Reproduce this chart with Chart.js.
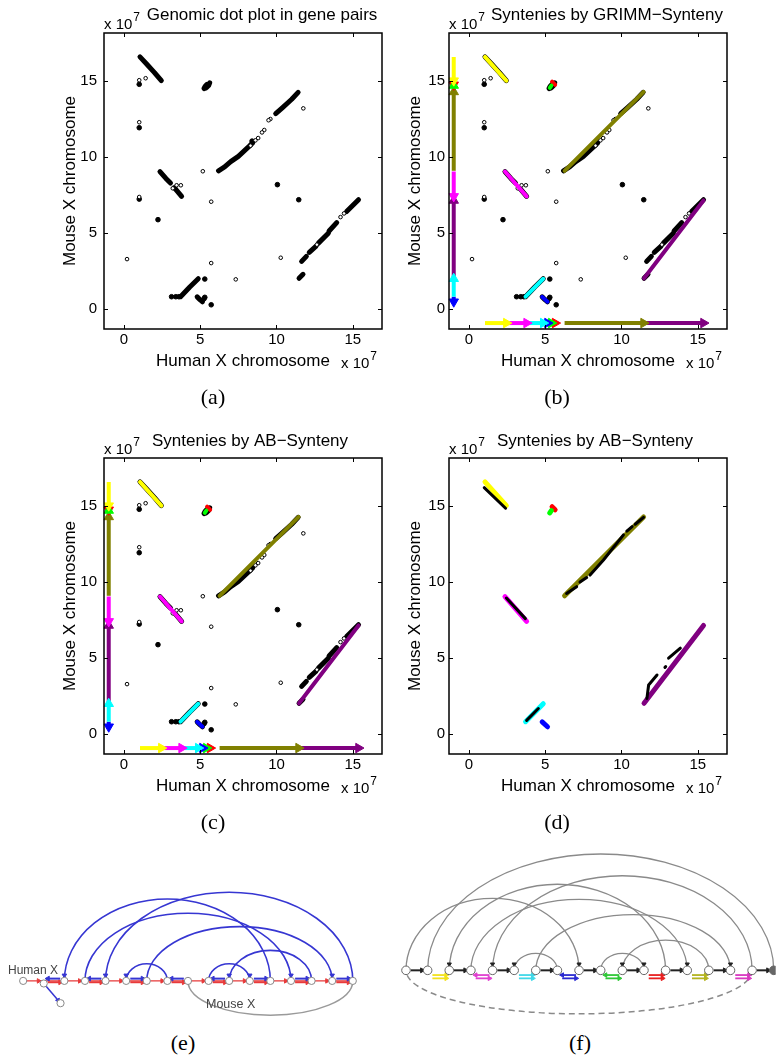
<!DOCTYPE html>
<html>
<head>
<meta charset="utf-8">
<script src="https://cdn.jsdelivr.net/npm/chart.js@4.4.1/dist/chart.umd.min.js"></script>
<style>
html,body{margin:0;padding:0;background:#fff;}
body{width:781px;height:1058px;position:relative;overflow:hidden;}
canvas{position:absolute;}
.cap{position:absolute;font-family:"Liberation Serif","DejaVu Serif",serif;font-size:22px;line-height:22px;color:#000;transform:translate(-50%,-50%);white-space:nowrap;}
</style>
</head>
<body>
<canvas id="pa" width="390" height="420" style="left:0;top:0"></canvas>
<canvas id="pb" width="390" height="420" style="left:345px;top:0"></canvas>
<canvas id="pc" width="390" height="420" style="left:0;top:425px"></canvas>
<canvas id="pd" width="390" height="420" style="left:345px;top:425px"></canvas>
<canvas id="pe" width="390" height="195" style="left:0;top:835px"></canvas>
<canvas id="pf" width="391" height="195" style="left:390px;top:835px"></canvas>
<div class="cap" style="left:213px;top:397px">(a)</div>
<div class="cap" style="left:557px;top:397px">(b)</div>
<div class="cap" style="left:213px;top:822px">(c)</div>
<div class="cap" style="left:557px;top:822px">(d)</div>
<div class="cap" style="left:183px;top:1043px">(e)</div>
<div class="cap" style="left:580px;top:1043px">(f)</div>
<script>
// ================= DATA (genome positions in units of 1e7 bp) =================
const xTicks = [0, 5, 10, 15];
const yTicks = [0, 5, 10, 15];

// dense runs of gene pairs (human pos, mouse pos) – vertices of the runs
const runsA = [
  [[1.05,16.58],[1.5,16.1],[2.0,15.55],[2.45,15.02]],
  [[5.25,14.5],[5.4,14.55],[5.55,14.7],[5.62,14.88]],
  [[5.3,14.62],[5.45,14.78]],
  [[6.2,9.1],[6.6,9.35],[7.0,9.7],[7.5,10.05],[8.15,10.65],[8.45,10.95]],
  [[9.95,12.85],[10.4,13.25],[11.0,13.8],[11.42,14.25]],
  [[2.36,9.05],[2.75,8.6],[3.05,8.3]],
  [[3.3,8.0],[3.78,7.42]],
  [[3.71,0.83],[4.3,1.45],[4.87,2.01]],
  [[4.8,0.82],[5.0,0.62],[5.15,0.5]],
  [[11.48,2.04],[11.74,2.3]],
  [[11.65,3.15],[11.96,3.48]],
  [[12.15,3.75],[12.6,4.15]],
  [[12.75,4.35],[13.4,5.0]],
  [[13.45,5.15],[13.95,5.7]],
  [[14.6,6.42],[15.38,7.2]]
];
const openPts = [[1.0,15.05],[1.42,15.18],[1.0,12.29],[5.17,9.07],[3.45,8.15],[3.73,8.15],[3.2,7.95],
  [1.0,7.38],[5.72,7.07],[0.2,3.3],[5.72,3.04],[7.33,1.97],[10.28,3.39],[11.76,13.2],[9.6,12.5],
  [9.48,12.42],[9.2,11.78],[9.05,11.62],[8.8,11.25],[8.62,11.1],[14.2,6.06],[14.43,6.3],[12.65,4.25],[8.3,10.75]];
const filledPts = [[1.0,14.78],[1.0,11.93],[1.0,7.24],[2.23,5.89],[10.06,8.19],[11.46,7.2],[5.3,1.99],
  [5.72,0.3],[5.3,0.79],[5.25,0.7],[3.12,0.83],[3.4,0.83],[3.6,0.83],[8.4,11.05]];

// synteny blocks (human start/end, mouse start/end)
const blockColor = ['#ffff00','#ff00ff','#00ffff','#0000ff','#00ff00','#ff0000','#808000','#800080'];
const blockH0 = [1.05, 2.36, 3.71, 4.80, 5.30, 5.45, 6.27, 11.48];
const blockH1 = [2.45, 3.78, 4.87, 5.15, 5.40, 5.65, 11.45, 15.38];
const blockM0 = [16.58, 9.05, 0.83, 0.82, 14.55, 14.95, 9.10, 2.04];
const blockM1 = [15.02, 7.42, 2.01, 0.50, 14.70, 14.75, 14.28, 7.15];

// AB-Synteny black segments in (d)
const abRuns = [
  [[1.0,16.2],[2.4,14.85]],
  [[2.45,8.95],[3.7,7.6]],
  [[3.78,0.92],[4.55,1.7]],
  [[6.4,9.25],[7.06,9.7]],
  [[7.28,10.0],[7.72,10.3]],
  [[7.94,10.46],[8.82,11.45],[10.13,13.1]],
  [[10.35,13.35],[10.7,13.65]],
  [[10.9,13.8],[11.45,14.25]],
  [[11.67,2.36],[11.78,3.24],[12.33,3.9]],
  [[12.85,4.4],[12.9,4.45]],
  [[13.09,5.0],[13.86,5.66]]
];

// graph (e)
const eNodeX = [0,1,2,3,4,5,6,7,8,9,10,11,12,13,14,15,16];
const eNodeY = [0,-2.7,0,0,0,0,0,0,0,0,0,0,0,0,0,0,0];
const eBranch = [1.815,-23.4];
const eArcFrom = [2,3,4,6,5,9,10];
const eArcTo   = [12,13,16,15,7,11,14];
const eArcH    = [86,71,93,57,18,18,32];
const eArrowNodes = [2,13,4,15,5,11,10];
const eLowArc = [8,16,-36];
const ePairStart = [1,3,5,7,9,11,13,15];
const eBlueDir = [-1,-1,1,-1,-1,1,1,1];
const eSingleStart = [0,2,4,6,8,10,12,14];

// graph (f)
const fNodeX = [0,1,2,3,4,5,6,7,8,9,10,11,12,13,14,15,16,17];
const fArcFrom = [0,1,2,3,4,5,6,9,10];
const fArcTo   = [8,17,12,13,16,7,15,11,14];
const fArcH    = [76,123,91,75,100,18,59,18,32];
const fArrowNodes = [8,2,13,4,5,15,11,10];
const fDashArc = [0,16,-46];
const fRowStart = [0,2,4,6,8,10,12,14,16];
const fPairStart = [1,3,5,7,9,11,13,15];
const fPairColor = ['#f2e21c','#e040d0','#40d8e8','#2a2ad0','#30c838','#e82020','#b4b420','#d838c0'];
const fTopDir = [1,-1,1,-1,-1,1,1,1];
const fBotDir = [1,1,1,1,1,1,1,1];

// ================= STYLE / LAYOUT =================
const FONT = '"Liberation Sans", Arial, Helvetica, sans-serif';
const X_MIN = -1.31, X_MAX = 16.92, Y_MIN = -1.29, Y_MAX = 18.15;
const HUMAN_AXIS_Y = -0.9, MOUSE_AXIS_X = -1.0;

const toXY = a => a.map(p => ({x:p[0], y:p[1]}));
function lineDs(pts, color, width, order, extra){
  return Object.assign({data:toXY(pts), showLine:true, borderColor:color, backgroundColor:color,
    borderWidth:width, pointRadius:0, pointHoverRadius:0, borderCapStyle:'round', borderJoinStyle:'round', order}, extra||{});
}
function arrowDs(p0, p1, color, rot, width, r, order){
  return {data:toXY([p0,p1]), showLine:true, borderColor:color, backgroundColor:color, borderWidth:width,
    borderCapStyle:'butt', pointStyle:'triangle', pointRadius:[0,r], pointHoverRadius:[0,r], pointRotation:[0,rot],
    pointBackgroundColor:color, pointBorderColor:color, pointBorderWidth:1, clip:12, order};
}

const framePlugin = {
  id:'frame',
  afterDraw(chart, args, o){
    const {ctx, chartArea:a, scales:{x, y}} = chart;
    ctx.save();
    ctx.strokeStyle = '#000';
    ctx.lineWidth = 1;
    const L = 4;
    ctx.beginPath();
    xTicks.forEach(v => { const p = Math.round(x.getPixelForValue(v))+0.5;
      ctx.moveTo(p,a.bottom); ctx.lineTo(p,a.bottom-L); ctx.moveTo(p,a.top); ctx.lineTo(p,a.top+L); });
    yTicks.forEach(v => { const p = Math.round(y.getPixelForValue(v))+0.5;
      ctx.moveTo(a.left,p); ctx.lineTo(a.left+L,p); ctx.moveTo(a.right,p); ctx.lineTo(a.right-L,p); });
    ctx.stroke();
    ctx.lineWidth = 1.5;
    ctx.strokeRect(a.left, a.top, a.right-a.left, a.bottom-a.top);
    ctx.fillStyle = '#000';
    ctx.font = '17px ' + FONT;
    ctx.textBaseline = 'alphabetic';
    ctx.textAlign = 'center';
    ctx.fillText(o.title, o.titleX, o.titleY);
    // x 10^7
    const pow = (px, py) => {
      ctx.font = '15px ' + FONT; ctx.textAlign = 'left';
      ctx.fillText('x 10', px, py);
      const w = ctx.measureText('x 10').width;
      ctx.font = '12px ' + FONT;
      ctx.fillText('7', px + w + 1, py - 8);
    };
    pow(a.left, 29);
    pow(341, 368);
    ctx.font = '17px ' + FONT; ctx.textAlign = 'center';
    ctx.fillText('Human X chromosome', (a.left+a.right)/2, 366);
    ctx.translate(70, (a.top+a.bottom)/2);
    ctx.rotate(-Math.PI/2);
    ctx.textBaseline = 'middle';
    ctx.fillText('Mouse X chromosome', 0, 0);
    ctx.restore();
  }
};

function dotPanel(id, o){
  const ds = [];
  if (o.dots){
    ds.push({data:toXY(openPts), pointRadius:1.8, pointHoverRadius:1.8, pointBorderWidth:1, pointBackgroundColor:'#fff', pointBorderColor:'#000', order:2});
    ds.push({data:toXY(filledPts), pointRadius:2.3, pointHoverRadius:2.3, pointBorderWidth:1, pointBackgroundColor:'#000', pointBorderColor:'#000', order:2});
    runsA.forEach(r => ds.push(lineDs(r, '#000', 5, 3)));
  }
  if (o.blocks){
    blockColor.forEach((c,i) => ds.push(lineDs([[blockH0[i],blockM0[i]],[blockH1[i],blockM1[i]]], c, o.blockW, 1)));
  }
  if (o.ab){
    abRuns.forEach(r => ds.push(lineDs(r, '#000', 3, 0.5)));
  }
  if (o.arrows){
    blockColor.forEach((c,i) => {
      ds.push(arrowDs([blockH0[i],HUMAN_AXIS_Y],[blockH1[i],HUMAN_AXIS_Y], c, 90, 4, 5.5, 0));
      const up = blockM1[i] > blockM0[i];
      ds.push(arrowDs([MOUSE_AXIS_X,blockM0[i]],[MOUSE_AXIS_X,blockM1[i]], c, up?0:180, 4, 5.5, 0));
    });
  }
  const axisCommon = (ticksArr) => ({
    type:'linear',
    afterBuildTicks: s => { s.ticks = ticksArr.map(v => ({value:v})); },
    grid:{display:false, drawTicks:false}, border:{display:false},
    ticks:{color:'#000', font:{family:FONT, size:15}, maxRotation:0, autoSkip:false, callback:v => String(v)}
  });
  const xs = axisCommon(xTicks); xs.min = X_MIN; xs.max = X_MAX; xs.ticks.padding = 2; xs.afterFit = s => { s.height = 91; };
  const ys = axisCommon(yTicks); ys.min = Y_MIN; ys.max = Y_MAX; ys.ticks.padding = o.yPad; ys.afterFit = s => { s.width = 104; };
  new Chart(document.getElementById(id), {
    type:'scatter',
    data:{datasets:ds},
    options:{
      responsive:false, animation:false, devicePixelRatio:1,
      layout:{padding:{top:33, right:8, left:0, bottom:0}},
      plugins:{legend:{display:false}, tooltip:{enabled:false},
        frame:{title:o.title, titleX:o.titleX, titleY:o.titleY}},
      scales:{x:xs, y:ys}
    },
    plugins:[framePlugin]
  });
}

dotPanel('pa', {dots:true, title:'Genomic dot plot in gene pairs', titleX:262, titleY:20, yPad:7});
dotPanel('pb', {dots:true, blocks:true, blockW:4, arrows:true, title:'Syntenies by GRIMM\u2212Synteny', titleX:262, titleY:20, yPad:4});
dotPanel('pc', {dots:true, blocks:true, blockW:4, arrows:true, title:'Syntenies by AB\u2212Synteny', titleX:250, titleY:21, yPad:7});
dotPanel('pd', {blocks:true, blockW:5, ab:true, title:'Syntenies by AB\u2212Synteny', titleX:250, titleY:21, yPad:4});

// ================= graph panels =================
const graphPlugin = {
  id:'graph',
  beforeDatasetsDraw(chart, args, o){
    const {ctx, scales:{x, y}} = chart;
    ctx.save();
    o.arcs.forEach(a => {
      const x1 = x.getPixelForValue(a[0]), x2 = x.getPixelForValue(a[1]);
      const y0 = y.getPixelForValue(0), yh = y.getPixelForValue(a[2]);
      ctx.beginPath();
      ctx.setLineDash(a[2] < 0 && o.dashLow ? [6,4] : []);
      ctx.strokeStyle = a[2] < 0 ? o.lowColor : o.arcColor;
      ctx.lineWidth = a[2] < 0 ? o.lowWidth : o.arcWidth;
      const cx = (x1+x2)/2, rx = Math.abs(x2-x1)/2, ry = Math.abs(y0-yh);
      if (a[2] > 0) ctx.ellipse(cx, y0, rx, ry, 0, Math.PI, 2*Math.PI);
      else ctx.ellipse(cx, y0, rx, ry, 0, 0, Math.PI);
      ctx.stroke();
    });
    ctx.restore();
  },
  afterDraw(chart, args, o){
    const {ctx} = chart;
    ctx.save();
    (o.labels||[]).forEach(l => {
      ctx.font = l.size + 'px ' + FONT; ctx.fillStyle = l.color;
      ctx.textAlign = 'left'; ctx.textBaseline = 'middle';
      ctx.fillText(l.text, l.x, l.y);
    });
    ctx.restore();
  }
};

function graphChart(id, ds, xr, yr, opts){
  new Chart(document.getElementById(id), {
    type:'scatter',
    data:{datasets:ds},
    options:{
      responsive:false, animation:false, devicePixelRatio:1,
      layout:{padding:0},
      plugins:{legend:{display:false}, tooltip:{enabled:false}, graph:opts},
      scales:{
        x:{type:'linear', display:false, min:xr[0], max:xr[1]},
        y:{type:'linear', display:false, min:yr[0], max:yr[1]}
      }
    },
    plugins:[graphPlugin]
  });
}

// (e)
(function(){
  const BLUE = '#3636d2', RED = '#e83a3a';
  const ds = [];
  const nodes = eNodeX.map((v,i) => ({x:v, y:eNodeY[i]}));
  nodes.push({x:eBranch[0], y:eBranch[1]});
  ds.push({data:nodes, pointRadius:3.6, pointHoverRadius:3.6, pointBackgroundColor:'#fff', pointBorderColor:'#888', pointBorderWidth:1, order:0});
  ds.push(lineDs([[eNodeX[0],0],[eNodeX[16],0]], RED, 1.2, 3));
  ds.push(arrowDs([eNodeX[1],eNodeY[1]],[eBranch[0]-0.12,eBranch[1]+3], BLUE, 150, 1.5, 2.5, 2));
  ds.push({data:eSingleStart.map(i => ({x:i+0.75, y:0})), pointStyle:'triangle', pointRadius:2.6, pointHoverRadius:2.6,
    pointRotation:90, pointBackgroundColor:RED, pointBorderColor:RED, order:2});
  ePairStart.forEach((i,k) => {
    const b0 = [i+0.2, 2.4], b1 = [i+0.8, 2.4];
    ds.push(eBlueDir[k] > 0 ? arrowDs(b0, b1, BLUE, 90, 2, 2.8, 1) : arrowDs(b1, b0, BLUE, 270, 2, 2.8, 1));
    ds.push(arrowDs([i+0.2,-1.4],[i+0.8,-1.4], RED, 90, 2, 2.8, 1));
  });
  ds.push({data:eArrowNodes.map(n => ({x:n, y:5.8})), pointStyle:'triangle', pointRadius:2.6, pointHoverRadius:2.6,
    pointRotation:180, pointBackgroundColor:BLUE, pointBorderColor:BLUE, order:1});
  const arcs = eArcFrom.map((f,i) => [f, eArcTo[i], eArcH[i]]);
  arcs.push(eLowArc);
  graphChart('pe', ds, [-0.9005, 17.583], [-46.7, 148.3], {
    arcs, arcColor:BLUE, arcWidth:1.6, lowColor:'#9a9a9a', lowWidth:1.5, dashLow:false,
    labels:[{text:'Human X', x:8, y:135.5, size:12, color:'#444'}, {text:'Mouse X', x:206, y:170, size:12.5, color:'#444'}]
  });
})();

// (f)
(function(){
  const ds = [];
  const nodes = fNodeX.map(v => ({x:v, y:0}));
  const fills = fNodeX.map((v,i) => i === fNodeX.length-1 ? '#666' : '#fff');
  ds.push({data:nodes, pointRadius:4.3, pointHoverRadius:4.3, pointBackgroundColor:fills, pointBorderColor:'#666', pointBorderWidth:1, order:0});
  fRowStart.forEach(i => ds.push(arrowDs([i+0.22,0],[i+0.74,0], '#222', 90, 2, 2.8, 1)));
  fPairStart.forEach((i,k) => {
    const c = fPairColor[k];
    const t0 = [i+0.22,-5], t1 = [i+0.86,-5];
    ds.push(fTopDir[k] > 0 ? arrowDs(t0, t1, c, 90, 1.8, 2.6, 1) : arrowDs(t1, t0, c, 270, 1.8, 2.6, 1));
    const b0 = [i+0.22,-8.5], b1 = [i+0.86,-8.5];
    ds.push(fBotDir[k] > 0 ? arrowDs(b0, b1, c, 90, 1.8, 2.6, 1) : arrowDs(b1, b0, c, 270, 1.8, 2.6, 1));
  });
  ds.push({data:fArrowNodes.map(n => ({x:n, y:6.5})), pointStyle:'triangle', pointRadius:2.4, pointHoverRadius:2.4,
    pointRotation:180, pointBackgroundColor:'#222', pointBorderColor:'#222', order:1});
  const arcs = fArcFrom.map((f,i) => [f, fArcTo[i], fArcH[i]]);
  arcs.push(fDashArc);
  graphChart('pf', ds, [-0.4947, 17.09], [-57.5, 137.5], {
    arcs, arcColor:'#8a8a8a', arcWidth:1.3, lowColor:'#8a8a8a', lowWidth:1.5, dashLow:true, labels:[]
  });
})();
</script>
</body>
</html>
